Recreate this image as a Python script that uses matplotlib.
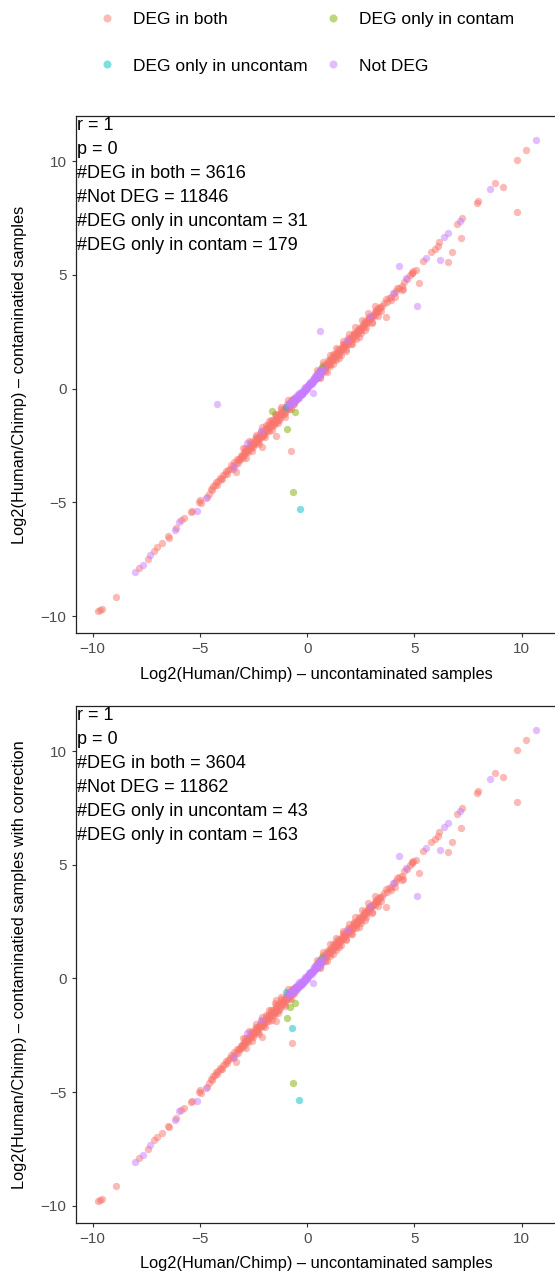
#!/usr/bin/env python3
"""
Scatter of log2 Human/Chimp fold changes: uncontaminated vs contaminated
samples (top) and vs contaminated samples with correction (bottom).
Writes: out.png
"""
import matplotlib
matplotlib.use("Agg")
import matplotlib.pyplot as plt
from matplotlib.lines import Line2D

plt.rcParams["font.family"] = ["Liberation Sans", "DejaVu Sans"]

COLORS = {
    "DEG in both":          "#F8766D",
    "DEG only in contam":   "#7CAE00",
    "DEG only in uncontam": "#00BFC4",
    "Not DEG":              "#C77CFF",
}
DRAW_ORDER = ["DEG in both", "DEG only in contam", "DEG only in uncontam", "Not DEG"]

# ---- points shared by both panels (x = uncontam, y = contam) ----
both_tail_pts = [
    (-9.77, -9.78), (-9.66, -9.74), (-9.58, -9.69), (-8.92, -9.15), (-7.86, -7.90),
    (-7.42, -7.49), (-7.14, -7.13), (-6.98, -6.98), (-6.75, -6.80), (-6.49, -6.48),
    (-6.45, -6.55), (-6.13, -6.15), (-5.86, -5.78), (-5.74, -5.71), (-5.43, -5.42),
    (-5.38, -5.40), (-5.04, -4.98), (-4.96, -5.05), (-4.98, -4.92), (-4.65, -4.76),
    (-4.60, -4.62), (-3.33, -3.66), (-2.09, -2.57),
    (5.19, 4.62), (4.43, 4.34), (4.11, 4.04), (3.69, 3.14), (5.38, 5.60),
    (5.78, 5.99), (5.97, 6.13), (6.09, 6.26), (6.15, 6.45), (6.77, 6.00),
    (6.57, 5.55), (7.16, 6.63), (6.98, 7.23), (7.22, 7.48), (7.91, 8.14),
    (7.98, 8.25), (8.77, 9.03), (9.13, 8.87), (9.78, 10.04), (10.21, 10.47),
    (9.78, 7.77),
]

both_core_pts = [
    (-4.48, -4.42), (-4.40, -4.30), (-4.32, -4.24), (-4.26, -4.10), (-4.15, -4.08),
    (-4.08, -3.95), (-4.00, -3.98), (-3.94, -3.80), (-3.85, -3.76), (-3.78, -3.62),
    (-3.70, -3.60), (-3.62, -3.52), (-3.55, -3.38), (-3.47, -3.40), (-3.40, -3.25),
    (-3.33, -3.28), (-3.25, -3.10), (-3.18, -3.12), (-3.10, -2.96), (-3.02, -2.95),
    (-2.95, -2.80), (-2.88, -2.84), (-2.80, -2.62), (-2.74, -2.70), (-2.68, -2.52),
    (-2.60, -2.55), (-2.55, -2.38), (-2.48, -2.42), (-2.42, -2.22), (-2.36, -2.34),
    (-2.30, -2.12), (-2.24, -2.20), (-2.18, -2.00), (-2.12, -2.10), (-2.06, -1.86),
    (-2.00, -1.98), (-1.94, -1.72), (-1.88, -1.88), (-1.82, -1.62), (-1.76, -1.74),
    (-1.70, -1.50), (-1.64, -1.64), (-1.58, -1.38), (-1.52, -1.52), (-1.46, -1.24),
    (-1.40, -1.42), (-1.34, -1.14), (-1.28, -1.30), (-1.22, -1.02), (-1.16, -1.18),
    (-1.10, -0.90), (-1.04, -1.06), (-0.98, -0.80), (-0.92, -0.92), (-0.86, -0.68),
    (-0.80, -0.82), (-0.74, -0.56), (-0.68, -0.70), (-0.62, -0.48), (-0.56, -0.56),
    (-0.50, -0.40),
    (-4.44, -4.46), (-4.20, -4.22), (-3.96, -3.99), (-3.72, -3.74), (-3.48, -3.52),
    (-3.24, -3.28), (-3.00, -3.04), (-2.88, -2.62), (-2.76, -2.80), (-2.64, -2.36),
    (-2.52, -2.58), (-2.40, -2.12), (-2.28, -2.34), (-2.16, -1.88), (-2.04, -2.10),
    (-1.92, -1.62), (-1.80, -1.86), (-1.68, -1.40), (-1.56, -1.62), (-1.44, -1.16),
    (-1.32, -1.38), (-1.20, -0.92), (-1.08, -1.14), (-0.96, -0.70), (-0.84, -0.90),
    (-0.72, -0.46), (-0.60, -0.66),
    (0.40, 0.58), (0.46, 0.50), (0.52, 0.72), (0.58, 0.62), (0.64, 0.84),
    (0.70, 0.74), (0.76, 0.96), (0.82, 0.86), (0.88, 1.10), (0.94, 0.98),
    (1.00, 1.22), (1.06, 1.10), (1.12, 1.34), (1.18, 1.24), (1.24, 1.46),
    (1.30, 1.36), (1.36, 1.58), (1.42, 1.48), (1.48, 1.70), (1.54, 1.62),
    (1.60, 1.82), (1.66, 1.74), (1.72, 1.94), (1.78, 1.86), (1.84, 2.06),
    (1.90, 1.98), (1.96, 2.18), (2.02, 2.10), (2.08, 2.30), (2.14, 2.22),
    (2.20, 2.42), (2.26, 2.34), (2.32, 2.54), (2.38, 2.44), (2.44, 2.64),
    (2.50, 2.58), (2.58, 2.78), (2.66, 2.78), (2.74, 2.96), (2.82, 2.94),
    (2.90, 3.10), (2.98, 3.12), (3.06, 3.24), (3.14, 3.24), (3.22, 3.42),
    (3.30, 3.40), (3.40, 3.58), (3.50, 3.62), (3.60, 3.76), (3.70, 3.82),
    (3.80, 3.98), (3.92, 4.02), (4.04, 4.20), (4.16, 4.28), (4.28, 4.44),
    (4.40, 4.50), (4.52, 4.70), (4.66, 4.80), (4.80, 4.98), (4.90, 5.08),
    (5.05, 5.20), (4.88, 5.10), (4.93, 5.16),
    (0.48, 0.80), (0.60, 0.52), (0.72, 1.02), (0.84, 0.76), (0.96, 1.26),
    (1.08, 1.00), (1.20, 1.50), (1.32, 1.24), (1.44, 1.74), (1.56, 1.48),
    (1.68, 1.98), (1.80, 1.72), (1.92, 2.22), (2.04, 1.96), (2.16, 2.46),
    (2.28, 2.20), (2.40, 2.68), (2.52, 2.44), (2.64, 2.92), (2.76, 2.70),
    (2.88, 3.16), (3.00, 2.94), (3.20, 3.46), (3.44, 3.40), (3.68, 3.94),
    (3.92, 3.88), (4.20, 4.40), (4.45, 4.38),
]

# densest stretch of the red band, close to the centre line
both_dense_pts = [
    (-3.20, -3.09), (-3.12, -3.09), (-3.04, -2.93), (-2.96, -2.92), (-2.88, -2.76),
    (-2.80, -2.76), (-2.72, -2.60), (-2.64, -2.60), (-2.56, -2.44), (-2.48, -2.44),
    (-2.40, -2.28), (-2.32, -2.27), (-2.24, -2.11), (-2.16, -2.11), (-2.08, -1.95),
    (-2.00, -1.95), (-1.92, -1.79), (-1.84, -1.79), (-1.76, -1.63), (-1.68, -1.63),
    (-1.60, -1.46), (-1.52, -1.46), (-1.44, -1.30), (-1.36, -1.30), (-1.28, -1.14),
    (-1.20, -1.14), (-1.12, -0.98), (-1.04, -0.98), (-0.96, -0.81), (-0.88, -0.81),
    (-0.80, -0.65), (-0.72, -0.65), (-0.64, -0.49), (-0.56, -0.49),
    (0.44, 0.61), (0.52, 0.61), (0.60, 0.77), (0.68, 0.77), (0.76, 0.93),
    (0.84, 0.93), (0.92, 1.09), (1.00, 1.10), (1.08, 1.26), (1.16, 1.26),
    (1.24, 1.42), (1.32, 1.42), (1.40, 1.58), (1.48, 1.58), (1.56, 1.74),
    (1.64, 1.74), (1.72, 1.91), (1.80, 1.91), (1.88, 2.07), (1.96, 2.07),
    (2.04, 2.23), (2.12, 2.23), (2.20, 2.39), (2.28, 2.39), (2.36, 2.56),
    (2.44, 2.56), (2.52, 2.72), (2.60, 2.72), (2.68, 2.88), (2.76, 2.88),
    (2.84, 3.04), (2.92, 3.04), (3.00, 3.21), (3.08, 3.21), (3.16, 3.37),
    (3.24, 3.37), (3.32, 3.53), (3.40, 3.53),
]

# points on the outer edges of the red band
both_edge_pts = [
    (-3.00, -2.63), (-2.85, -3.05), (-2.70, -2.32), (-2.55, -2.75), (-2.40, -2.02),
    (-2.25, -2.44), (-2.10, -1.71), (-1.95, -2.14), (-1.80, -1.41), (-1.65, -1.83),
    (-1.50, -1.10), (-1.35, -1.53), (-1.20, -0.80), (-1.05, -1.23), (-0.90, -0.49),
    (-0.75, -0.92),
    (0.60, 0.45), (0.75, 1.18), (0.90, 0.75), (1.05, 1.49), (1.20, 1.06),
    (1.35, 1.79), (1.50, 1.36), (1.65, 2.09), (1.80, 1.67), (1.95, 2.40),
    (2.10, 1.97), (2.25, 2.70), (2.40, 2.28), (2.55, 3.01), (2.70, 2.58),
    (2.85, 3.31), (3.00, 2.89), (3.15, 3.62), (3.30, 3.19),
]

notdeg_pts = [
    (-8.03, -8.08), (-7.63, -7.76), (-7.32, -7.32), (-6.17, -6.22), (-5.97, -5.85),
    (-5.15, -5.38), (-4.70, -4.83), (-3.41, -3.44), (-2.79, -2.41), (-2.13, -1.85),
    (-0.80, -0.66), (-0.74, -0.62), (-0.68, -0.52), (-0.62, -0.50), (-0.56, -0.42),
    (-0.50, -0.40), (-0.46, -0.30), (-0.42, -0.36), (-0.38, -0.24), (-0.34, -0.30),
    (-0.30, -0.18), (-0.26, -0.22), (-0.22, -0.10), (-0.18, -0.14), (-0.14, -0.02),
    (-0.10, -0.06), (-0.06, 0.06), (-0.02, 0.02), (0.02, 0.14), (0.06, 0.10),
    (0.10, 0.22), (0.14, 0.18), (0.18, 0.30), (0.22, 0.26), (0.26, 0.40),
    (0.30, 0.34), (0.34, 0.48), (0.38, 0.42), (0.44, 0.58), (0.50, 0.54),
    (0.56, 0.70), (0.62, 0.68), (0.70, 0.82), (0.28, -0.21),
    (-0.90, -0.78), (-0.84, -0.62), (-0.70, -0.66), (-0.58, -0.36), (-0.48, -0.48),
    (-0.36, -0.18), (-0.24, -0.26), (-0.12, 0.06), (0.00, -0.04), (0.12, 0.30),
    (0.24, 0.20), (0.36, 0.56), (0.46, 0.46), (0.58, 0.80), (0.66, 0.62),
    (0.78, 0.92),
    (-0.60, -0.57), (-0.55, -0.48), (-0.50, -0.50), (-0.45, -0.40), (-0.40, -0.40),
    (-0.35, -0.30), (-0.30, -0.30), (-0.25, -0.20), (-0.20, -0.20), (-0.15, -0.10),
    (-0.10, -0.10), (-0.05, 0.00), (0.00, 0.02), (0.05, 0.10), (0.10, 0.12),
    (0.15, 0.22), (0.20, 0.24), (0.25, 0.32), (0.30, 0.36), (0.35, 0.42),
    (0.40, 0.48), (0.45, 0.52), (0.50, 0.60), (0.55, 0.64), (0.60, 0.72),
    (1.86, 2.13), (2.94, 3.18), (4.00, 4.21), (4.29, 5.38), (4.62, 4.84),
    (5.12, 3.61), (5.53, 5.75), (6.20, 5.64), (6.39, 6.67), (6.56, 6.82),
    (7.10, 7.35), (8.53, 8.77), (10.67, 10.94),
]

# ---- panel-specific points ----
top_both_extra = [(-1.47, -2.07), (-0.74, -2.73)]
top_notdeg_extra = [(-4.19, -0.70), (0.59, 2.51)]
top_contam = [(-1.66, -0.99), (-0.93, -1.78), (-0.68, -4.54), (-0.58, -1.02), (0.70, 0.96)]
top_uncontam = [(-0.34, -5.28), (-1.01, -0.80), (0.60, 0.78)]

bot_both_extra = [(-0.73, -2.84), (-1.47, -0.94), (-1.47, -1.86)]
bot_notdeg_extra = []
bot_contam = [(-0.93, -1.74), (-0.68, -4.60), (-0.58, -1.07), (-0.78, -1.28), (0.70, 0.96)]
bot_uncontam = [(-0.73, -2.17), (-0.36, -5.36), (-1.01, -0.59), (0.60, 0.78)]

# r, p, #DEG in both, #Not DEG, #DEG only in uncontam, #DEG only in contam
top_stats = [1, 0, 3616, 11846, 31, 179]
bot_stats = [1, 0, 3604, 11862, 43, 163]

X_LABEL = "Log2(Human/Chimp) \u2013 uncontaminated samples"
TOP_Y_LABEL = "Log2(Human/Chimp) \u2013 contaminatied samples"
BOT_Y_LABEL = "Log2(Human/Chimp) \u2013 contaminatied samples with correction"

TICKS = [-10, -5, 0, 5, 10]
XLIM = (-10.79, 11.69)
YLIM = (-10.75, 11.98)
POINT_SIZE = 28


def draw_panel(ax, series, stats, ylabel):
    for name in DRAW_ORDER:
        pts = series[name]
        if not pts:
            continue
        xs, ys = zip(*pts)
        ax.scatter(xs, ys, s=POINT_SIZE, color=COLORS[name], alpha=0.5,
                   linewidths=0, zorder=2)

    ax.set_xlim(*XLIM)
    ax.set_ylim(*YLIM)
    ax.set_xticks(TICKS)
    ax.set_yticks(TICKS)
    ax.tick_params(colors="#333333", labelcolor="#4D4D4D", labelsize=11,
                   length=3.2, width=0.8)
    for side in ("left", "bottom", "top"):
        ax.spines[side].set_linewidth(0.9)
        ax.spines[side].set_color("#222222")
    ax.spines["right"].set_visible(False)
    ax.set_xlabel(X_LABEL, fontsize=11.8, labelpad=7.5)
    ax.set_ylabel(ylabel, fontsize=11.8, labelpad=10)

    r, p, n_both, n_not, n_unc, n_con = stats
    txt = (f"r = {r}\np = {p}\n#DEG in both = {n_both}\n#Not DEG = {n_not}\n"
           f"#DEG only in uncontam = {n_unc}\n#DEG only in contam = {n_con}")
    ax.text(0.002, 0.999, txt, transform=ax.transAxes, ha="left", va="top",
            fontsize=13, linespacing=1.55, zorder=3)


def main():
    fig = plt.figure(figsize=(5.55, 12.73), dpi=100)

    ax_top = fig.add_axes([0.1364, 0.5027, 0.869, 0.4061])
    ax_bot = fig.add_axes([0.1364, 0.0395, 0.869, 0.4059])

    both_pts = both_tail_pts + both_core_pts + both_dense_pts + both_edge_pts
    top_series = {
        "DEG in both": both_pts + top_both_extra,
        "DEG only in contam": top_contam,
        "DEG only in uncontam": top_uncontam,
        "Not DEG": notdeg_pts + top_notdeg_extra,
    }
    bot_series = {
        "DEG in both": both_pts + bot_both_extra,
        "DEG only in contam": bot_contam,
        "DEG only in uncontam": bot_uncontam,
        "Not DEG": notdeg_pts + bot_notdeg_extra,
    }
    draw_panel(ax_top, top_series, top_stats, TOP_Y_LABEL)
    draw_panel(ax_bot, bot_series, bot_stats, BOT_Y_LABEL)

    # legend: matplotlib fills columns first
    legend_order = ["DEG in both", "DEG only in uncontam", "DEG only in contam", "Not DEG"]
    handles = [Line2D([], [], linestyle="none", marker="o", markersize=5.8,
                      markeredgewidth=0, color=COLORS[n], alpha=0.5)
               for n in legend_order]
    fig.legend(handles, legend_order, ncol=2, loc="upper left",
               bbox_to_anchor=(98 / 555, 1 - 12 / 1273), frameon=False,
               fontsize=12.5, handlelength=1.0, handletextpad=1.0,
               columnspacing=1.0, labelspacing=1.8, borderpad=0, borderaxespad=0)

    fig.savefig("out.png", dpi=100)
    plt.close(fig)


if __name__ == "__main__":
    main()
